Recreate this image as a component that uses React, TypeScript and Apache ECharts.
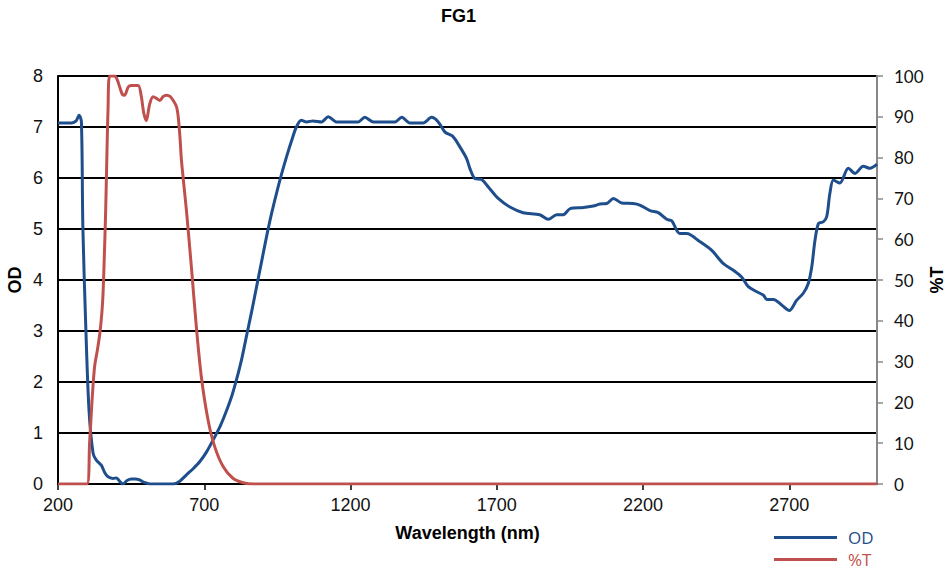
import React, { useEffect, useRef } from "react";
import * as echarts from "echarts";

const chartTitle = "FG1";
const xTicks = [200, 700, 1200, 1700, 2200, 2700];

const odWavelength = [
  200, 246, 262, 272, 280, 285, 295, 306, 320, 331, 348, 360, 371, 388, 400, 411, 422, 436, 451, 465,
  479, 495, 514, 594, 615, 639, 662, 685, 708, 730, 755, 777, 795, 810, 828, 844, 862, 879, 896, 913,
  930, 947, 964, 981, 998, 1015, 1032, 1050, 1072, 1101, 1124, 1152, 1226, 1249, 1278, 1352, 1375, 1403, 1449, 1477,
  1500, 1523, 1549, 1574, 1597, 1608, 1625, 1648, 1676, 1705, 1745, 1790, 1847, 1876, 1905, 1927, 1951, 1996, 2030, 2053,
  2076, 2099, 2127, 2166, 2189, 2224, 2252, 2281, 2298, 2326, 2349, 2395, 2435, 2475, 2509, 2537, 2560, 2589, 2612, 2623,
  2646, 2674, 2700, 2725, 2748, 2765, 2777, 2788, 2800, 2816, 2828, 2839, 2851, 2873, 2902, 2925, 2953, 2976, 3000,
];
const odValues = [
  7.08, 7.08, 7.12, 7.23, 7.1, 5.04, 3.08, 1.45, 0.6, 0.47, 0.37, 0.22, 0.14, 0.11, 0.12, 0.05, 0.0, 0.07, 0.1, 0.1,
  0.08, 0.03, 0.0, 0.0, 0.05, 0.18, 0.3, 0.44, 0.63, 0.86, 1.14, 1.45, 1.74, 2.04, 2.45, 2.89, 3.38, 3.87, 4.36, 4.85,
  5.3, 5.7, 6.07, 6.41, 6.72, 7.0, 7.13, 7.1, 7.12, 7.1, 7.2, 7.1, 7.1, 7.19, 7.1, 7.1, 7.19, 7.08, 7.08, 7.19,
  7.1, 6.9, 6.82, 6.61, 6.38, 6.19, 5.99, 5.97, 5.79, 5.6, 5.43, 5.32, 5.28, 5.19, 5.28, 5.28, 5.4, 5.42, 5.45, 5.49,
  5.5, 5.6, 5.51, 5.5, 5.47, 5.36, 5.32, 5.19, 5.16, 4.91, 4.91, 4.75, 4.58, 4.32, 4.19, 4.06, 3.87, 3.77, 3.7, 3.62,
  3.62, 3.51, 3.4, 3.6, 3.74, 3.93, 4.26, 4.78, 5.11, 5.14, 5.24, 5.7, 5.96, 5.9, 6.19, 6.09, 6.23, 6.19, 6.27,
];

const tWavelength = [
  200, 299, 308, 316, 325, 335, 343, 350, 354, 358, 363, 367, 371, 377, 394, 403, 411, 420, 428, 440,
  451, 474, 485, 493, 502, 513, 525, 537, 548, 560, 571, 583, 594, 605, 611, 617, 622, 639, 656, 673,
  690, 713, 736, 765, 798, 833, 870, 3000,
];
const tValues = [
  0, 0, 10, 20, 28.7, 33, 36.9, 42, 46.7, 55, 67.1, 80, 91.6, 100, 100, 99, 97.3, 95.5, 95.3, 97.3,
  97.7, 97.7, 94.9, 91, 89.1, 93, 94.9, 94.5, 94.0, 95, 95.3, 95, 94.0, 92.5, 90, 85, 79.4, 67.1, 53.2, 38.5,
  26.3, 15.7, 9.1, 4.2, 1.4, 0.3, 0, 0,
];

const BLUE = "#1F4E8C";
const RED = "#C0504D";

export default function App() {
  const ref = useRef<HTMLDivElement>(null);
  useEffect(() => {
    document.body.style.margin = "0";
    const chart = echarts.init(ref.current!, null, { renderer: "svg" });
    const odData = odWavelength.map((x, i) => [x, odValues[i]]);
    const tData = tWavelength.map((x, i) => [x, tValues[i]]);
    chart.setOption({
      animation: false,
      backgroundColor: "#ffffff",
      title: {
        text: chartTitle,
        left: 441,
        top: 7,
        padding: 0,
        textStyle: { fontFamily: "Liberation Sans", fontSize: 18, fontWeight: "bold", color: "#000" },
      },
      legend: {
        orient: "vertical",
        left: 774,
        top: 529,
        icon: "rect",
        itemWidth: 63,
        itemHeight: 3,
        itemGap: 5,
        padding: 0,
        textStyle: { fontFamily: "Open Sans", fontSize: 17, lineHeight: 17, padding: [0, 0, 0, 6] },
        data: [
          { name: "OD", textStyle: { color: BLUE } },
          { name: "%T", textStyle: { color: RED } },
        ],
      },
      grid: { left: 58, right: 70, top: 76, bottom: 87, outerBoundsMode: "none", containLabel: false },
      xAxis: {
        type: "value",
        min: 200,
        max: 3000,
        interval: 500,
        name: "Wavelength (nm)",
        nameLocation: "middle",
        nameGap: 40,
        nameMoveOverlap: false,
        nameTextStyle: { fontFamily: "Liberation Sans", fontSize: 18, fontWeight: "bold", color: "#000" },
        axisLine: { lineStyle: { color: "#000", width: 2 } },
        axisTick: { show: true, length: 6, lineStyle: { color: "#000", width: 1.5 } },
        axisLabel: {
          margin: 12,
          fontFamily: "Liberation Sans",
          fontSize: 18,
          color: "#111",
          showMaxLabel: false,
          formatter: (v: number) => (xTicks.includes(v) ? String(v) : ""),
        },
        splitLine: { show: false },
      },
      yAxis: [
        {
          type: "value",
          min: 0,
          max: 8,
          interval: 1,
          name: "OD",
          nameLocation: "middle",
          nameGap: 34,
          nameRotate: 90,
          nameMoveOverlap: false,
          nameTextStyle: { fontFamily: "Liberation Sans", fontSize: 18, fontWeight: "bold", color: "#000" },
          axisLine: { show: true, lineStyle: { color: "#000", width: 2 } },
          axisTick: { show: false },
          axisLabel: { margin: 15, fontFamily: "Liberation Sans", fontSize: 18, color: "#111" },
          splitLine: { show: true, lineStyle: { color: "#000", width: 2 } },
        },
        {
          type: "value",
          min: 0,
          max: 100,
          interval: 10,
          position: "right",
          name: "%T",
          nameLocation: "middle",
          nameGap: 51,
          nameRotate: 90,
          nameMoveOverlap: false,
          nameTextStyle: { fontFamily: "Liberation Sans", fontSize: 18, fontWeight: "bold", color: "#000" },
          axisLine: { show: true, lineStyle: { color: "#888", width: 2 } },
          axisTick: { show: true, length: 6, lineStyle: { color: "#888", width: 1.5 } },
          axisLabel: { margin: 17, fontFamily: "Lato", fontSize: 17, color: "#111" },
          splitLine: { show: false },
        },
      ],
      series: [
        {
          name: "OD",
          type: "line",
          yAxisIndex: 0,
          data: odData,
          showSymbol: false,
          smooth: 0.3,
          lineStyle: { color: BLUE, width: 3 },
          itemStyle: { color: BLUE },
        },
        {
          name: "%T",
          type: "line",
          yAxisIndex: 1,
          data: tData,
          showSymbol: false,
          smooth: 0.3,
          lineStyle: { color: RED, width: 3 },
          itemStyle: { color: RED },
        },
      ],
    });
    return () => chart.dispose();
  }, []);
  return <div ref={ref} style={{ width: 947, height: 571 }} />;
}
